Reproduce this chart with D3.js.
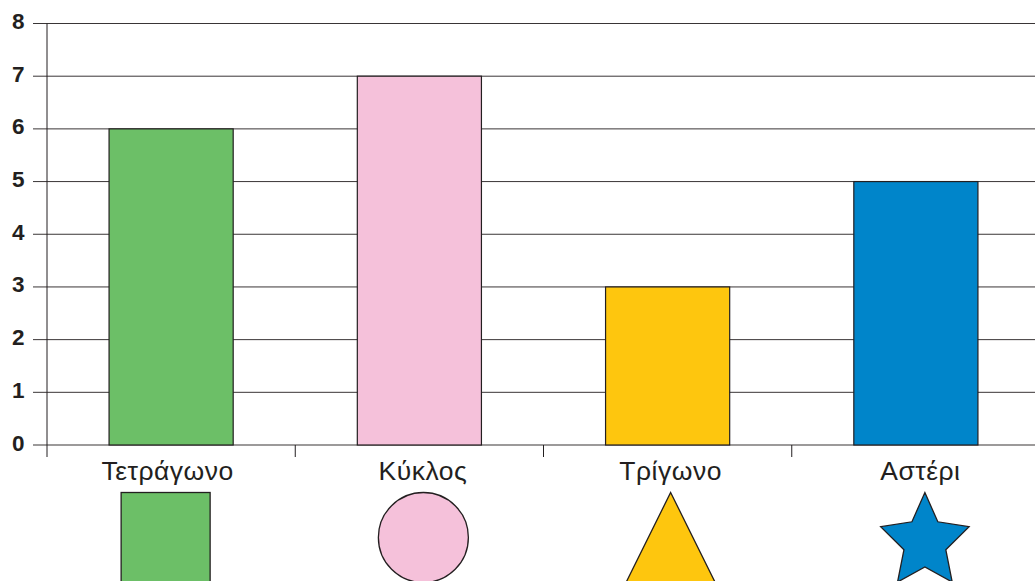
<!DOCTYPE html>
<html><head><meta charset="utf-8">
<script src="https://cdn.jsdelivr.net/npm/d3@7"></script>
<style>html,body{margin:0;padding:0;background:#fff;overflow:hidden}svg{display:block}
text{font-family:"Liberation Sans",Arial,sans-serif;fill:#231f20}</style></head><body>
<script>
const categories = ["Τετράγωνο","Κύκλος","Τρίγωνο","Αστέρι"];
const values = [6,7,3,5];
const colors = ["#6cbf67","#f5c1da","#fec60e","#0085ca"];
const shapes = ["square","circle","triangle","star"];
const yTicks = [0,1,2,3,4,5,6,7,8];

const W=1035,H=581,ink="#231f20";
const labelShift=[-3.5,3.5,3,4.5];
const svg=d3.select("body").append("svg").attr("width",W).attr("height",H);
const x=d3.scaleBand().domain(categories).range([47,1040]).padding(0);
const y=d3.scaleLinear().domain([0,8]).range([445,23.5]);
const bw=x.bandwidth()*0.5;

// grid
svg.append("g").selectAll("line").data(yTicks).join("line")
  .attr("x1",33).attr("x2",W).attr("y1",d=>y(d)).attr("y2",d=>y(d))
  .attr("stroke",ink).attr("stroke-width",1).attr("stroke-opacity",0.9);
// y tick labels
svg.append("g").selectAll("text").data(yTicks).join("text")
  .attr("x",24.5).attr("y",d=>y(d)+5.5).attr("text-anchor","end")
  .attr("font-weight","bold").attr("font-size",22.5)
  .text(d=>d);
// y axis + x ticks
svg.append("line").attr("x1",47).attr("x2",47).attr("y1",y(8)).attr("y2",457).attr("stroke",ink).attr("stroke-width",1);
svg.append("g").selectAll("line").data(categories.slice(1)).join("line")
  .attr("x1",d=>x(d)).attr("x2",d=>x(d)).attr("y1",445).attr("y2",457).attr("stroke",ink);
// bars
svg.append("g").selectAll("rect").data(categories).join("rect")
  .attr("x",d=>x(d)+x.bandwidth()/2-bw/2).attr("width",bw)
  .attr("y",(d,i)=>y(values[i])).attr("height",(d,i)=>y(0)-y(values[i]))
  .attr("fill",(d,i)=>colors[i]).attr("stroke",ink).attr("stroke-width",1.2);
// category labels
svg.append("g").selectAll("text").data(categories).join("text")
  .attr("x",(d,i)=>x(d)+x.bandwidth()/2+labelShift[i]).attr("y",480).attr("text-anchor","middle")
  .attr("font-size",26.5).attr("letter-spacing",0.5).text(d=>d);
// shapes
const shapeTop=492.5;
const g=svg.append("g").attr("stroke",ink).attr("stroke-width",1.3);
categories.forEach((c,i)=>{
  const cx=x(c)+x.bandwidth()/2, col=colors[i], s=shapes[i];
  if(s==="square") g.append("rect").attr("x",cx-50).attr("y",shapeTop).attr("width",89).attr("height",100).attr("fill",col);
  if(s==="circle") g.append("circle").attr("cx",cx+4).attr("cy",shapeTop+45).attr("r",45).attr("fill",col);
  if(s==="triangle"){
    const tx=cx+3;
    g.append("path").attr("d",d3.line()([[tx,shapeTop],[tx+54,shapeTop+109],[tx-54,shapeTop+109]])+"Z").attr("fill",col);
  }
  if(s==="star"){
    const sx=cx+9, cy=shapeTop+49.5;
    const pts=d3.range(10).map(k=>{
      const a=k*Math.PI/5, o=k%2===0;
      return [sx+(o?46.5:22)*Math.sin(a), cy-(o?49.5:25)*Math.cos(a)];
    });
    g.append("path").attr("d",d3.line()(pts)+"Z").attr("fill",col);
  }
});
</script></body></html>
